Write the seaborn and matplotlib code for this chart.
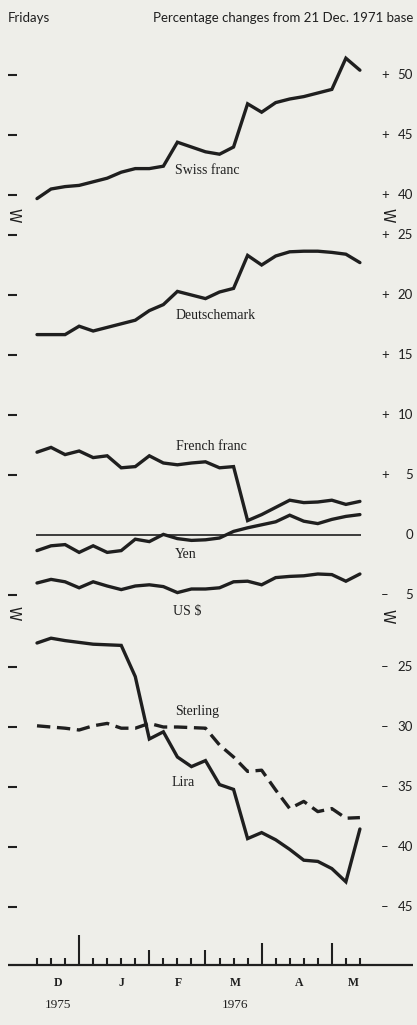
import numpy as np
import pandas as pd
import matplotlib
matplotlib.use("Agg")
import matplotlib.pyplot as plt
import matplotlib.transforms as mtransforms
import seaborn as sns

# ---------------- data ----------------
fridays = pd.date_range("1975-12-05", "1976-05-14", freq="W-FRI")
weeks = np.arange(len(fridays))

swiss = [39.7, 40.5, 40.7, 40.8, 41.1, 41.4, 41.9, 42.2, 42.2, 42.4, 44.4, 44.0,
         43.6, 43.4, 44.0, 47.6, 46.9, 47.7, 48.0, 48.2, 48.5, 48.8, 51.4, 50.4]
deutschemark = [16.7, 16.7, 16.7, 17.4, 17.0, 17.3, 17.6, 17.9, 18.7, 19.2, 20.3, 20.0,
                19.7, 20.25, 20.55, 23.3, 22.5, 23.25, 23.6, 23.65, 23.65, 23.55, 23.4, 22.7]
french_franc = [6.9, 7.3, 6.7, 7.0, 6.45, 6.6, 5.6, 5.7, 6.6, 6.0, 5.85, 6.0,
                6.1, 5.6, 5.7, 1.2, 1.7, 2.3, 2.9, 2.7, 2.75, 2.9, 2.55, 2.8]
yen = [-1.3, -0.9, -0.8, -1.45, -0.9, -1.45, -1.3, -0.35, -0.55, 0.05, -0.3, -0.45,
       -0.4, -0.25, 0.3, 0.6, 0.85, 1.1, 1.65, 1.15, 0.95, 1.3, 1.55, 1.7]
us_dollar = [-4.0, -3.7, -3.9, -4.4, -3.9, -4.25, -4.55, -4.25, -4.15, -4.3, -4.8, -4.5,
             -4.5, -4.4, -3.9, -3.85, -4.15, -3.55, -3.45, -3.4, -3.25, -3.3, -3.85, -3.25]
sterling = [-29.9, -30.0, -30.1, -30.25, -29.9, -29.7, -30.1, -30.1, -29.7, -30.0, -30.0, -30.05,
            -30.1, -31.5, -32.5, -33.7, -33.6, -35.25, -36.8, -36.2, -37.05, -36.8, -37.6, -37.55]
lira = [-23.0, -22.6, -22.8, -22.95, -23.1, -23.15, -23.2, -25.8, -31.0, -30.4, -32.5, -33.3,
        -32.8, -34.8, -35.2, -39.3, -38.8, -39.4, -40.2, -41.1, -41.2, -41.8, -42.9, -38.5]

top_ticks = [50, 45, 40]
mid_ticks = [25, 20, 15, 10, 5, 0, -5]
bot_ticks = [-25, -30, -35, -40, -45]
mid_left_ticks = [25, 20, 15, 10, 5, -5]

month_letters = ["D", "J", "F", "M", "A", "M"]
month_label_pos = [1.5, 6.0, 10.1, 14.1, 18.7, 22.5]
year_labels = ["1975", "1976"]
year_label_pos = [1.5, 14.1]

# ---------------- style ----------------
sns.set_theme(style="white")
BG = "#eeeee9"
INK = "#1f1f1f"
plt.rcParams["font.family"] = ["Lato", "DejaVu Sans"]
SERIF = ["Liberation Serif", "DejaVu Serif"]

W, H = 417, 1025
fig = plt.figure(figsize=(W / 100, H / 100), dpi=100, facecolor=BG)

X0_PX, DX_PX = 37.0, 14.04
XL, XR = 8.0, 413.0
xlim = ((XL - X0_PX) / DX_PX, (XR - X0_PX) / DX_PX)


def add_ax(top_px, bottom_px):
    ax = fig.add_axes([XL / W, 1 - bottom_px / H, (XR - XL) / W, (bottom_px - top_px) / H])
    ax.set_facecolor("none")
    ax.set_xlim(*xlim)
    for s in ax.spines.values():
        s.set_visible(False)
    ax.set_xticks([])
    ax.set_xlabel("")
    ax.set_ylabel("")
    return ax


ax_top = add_ax(40, 212)
ax_top.set_ylim(50 - (212 - 75) / 12, 50 + (75 - 40) / 12)
ax_mid = add_ax(212, 612)
ax_mid.set_ylim((535 - 612) / 12, (535 - 212) / 12)
ax_bot = add_ax(612, 935)
ax_bot.set_ylim((367 - 935) / 12, (367 - 612) / 12)

LW = 2.4


def draw(ax, vals, dashed=False):
    sns.lineplot(x=weeks, y=vals, ax=ax, color=INK, linewidth=LW, legend=False)
    ln = ax.lines[-1]
    ln.set_solid_joinstyle("miter")
    if dashed:
        ln.set_dashes([4.0, 2.0])
        ln.set_dash_capstyle("butt")


draw(ax_top, swiss)
draw(ax_mid, deutschemark)
draw(ax_mid, french_franc)
draw(ax_mid, yen)
draw(ax_mid, us_dollar)
draw(ax_bot, sterling, dashed=True)
draw(ax_bot, lira)

# zero line
ax_mid.hlines(0, weeks[0] - 0.1, weeks[-1] + 0.1, color=INK, linewidth=1.2)

# left dashes (ticks) and right labels
for ax, left, right in [(ax_top, top_ticks, top_ticks),
                        (ax_mid, mid_left_ticks, mid_ticks),
                        (ax_bot, bot_ticks, bot_ticks)]:
    ax.set_yticks(left)
    ax.tick_params(axis="y", which="both", left=True, right=False, direction="in",
                   length=6.5, width=1.5, color=INK, labelleft=False, labelright=False)
    tr = mtransforms.blended_transform_factory(ax.transAxes, ax.transData)
    for v in right:
        if v != 0:
            ax.text((385 - XL) / (XR - XL), v, "+" if v > 0 else "\u2013", transform=tr,
                    ha="center", va="center", fontsize=9.5, color=INK)
        ax.text(1.0, v, f"{abs(v)}", transform=tr, ha="right", va="center",
                fontsize=9.5, color=INK)

# series labels
lab = dict(fontsize=10, color=INK, family=SERIF, ha="center", va="center")
ax_top.text(12.1, 42.0, "Swiss franc", **lab)
ax_mid.text(12.7, 18.3, "Deutschemark", **lab)
ax_mid.text(12.45, 7.35, "French franc", **lab)
ax_mid.text(10.6, -1.6, "Yen", **lab)
ax_mid.text(10.7, -6.4, "US $", **lab)
ax_bot.text(11.4, -28.7, "Sterling", **lab)
ax_bot.text(10.4, -34.6, "Lira", **lab)

# break markers
for (xp, yp) in [(13, 215), (387, 215), (13, 613), (387, 616)]:
    fig.text(xp / W, 1 - yp / H, "W", rotation=-90, ha="center", va="center",
             fontsize=10.5, color=INK, family=["DejaVu Sans"])

# header
fig.text(8 / W, 1 - 18 / H, "Fridays", ha="left", va="center", fontsize=9.5, color=INK)
fig.text(413 / W, 1 - 18 / H, "Percentage changes from 21 Dec. 1971 base",
         ha="right", va="center", fontsize=9.5, color=INK)

# time axis
ax_t = add_ax(935, 1025)
ax_t.set_ylim(-60, 30)
ax_t.set_yticks([])
ax_t.axhline(0, color=INK, linewidth=1.6)
month_end_height = {12: 30, 1: 15, 2: 15, 3: 22, 4: 22}
heights = []
for i, d in enumerate(fridays):
    nxt = d + pd.Timedelta(days=7)
    if nxt.month != d.month and d.month in month_end_height:
        heights.append(month_end_height[d.month])
    else:
        heights.append(7)
ax_t.vlines(weeks, 0, heights, color=INK, linewidth=1.5)
for p, m in zip(month_label_pos, month_letters):
    ax_t.text(p, -18, m, ha="center", va="center", fontsize=8.5, fontweight="bold",
              family=SERIF, color=INK)
for p, y in zip(year_label_pos, year_labels):
    ax_t.text(p, -40, y, ha="center", va="center", fontsize=9.5, family=SERIF, color=INK)

fig.savefig("out.png", dpi=100, facecolor=BG)
